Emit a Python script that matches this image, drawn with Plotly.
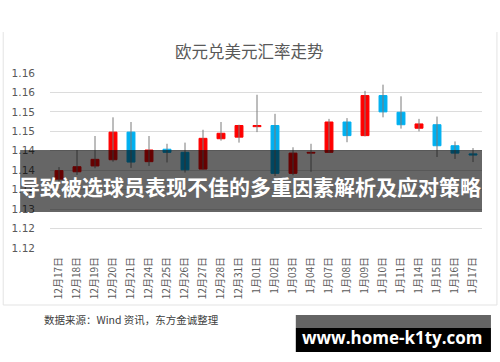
import plotly.graph_objects as go

dates = ["12月17日", "12月18日", "12月19日", "12月20日", "12月21日", "12月24日",
         "12月25日", "12月26日", "12月27日", "12月28日", "12月31日", "1月01日",
         "1月02日", "1月03日", "1月04日", "1月07日", "1月08日", "1月09日",
         "1月10日", "1月11日", "1月14日", "1月15日", "1月16日", "1月17日"]
opens = [1.1377, 1.1396, 1.1411, 1.1427, 1.1498, 1.1422, 1.1454, 1.1446, 1.1403, 1.1481,
         1.1485, 1.1512, 1.1515, 1.1392, 1.1444, 1.1446, 1.1524, 1.1489, 1.1592, 1.1549,
         1.1508, 1.1517, 1.1463, 1.1442]
closes = [1.1399, 1.1409, 1.1428, 1.1498, 1.1421, 1.1452, 1.1446, 1.1401, 1.1482, 1.1495,
          1.1515, 1.1515, 1.1392, 1.1444, 1.1446, 1.1524, 1.1489, 1.1592, 1.1550, 1.1517,
          1.1519, 1.1463, 1.1444, 1.1439]
highs = [1.1408, 1.1452, 1.1488, 1.1536, 1.1524, 1.1488, 1.1468, 1.1471, 1.1504, 1.1524,
         1.1517, 1.1594, 1.1545, 1.1459, 1.1468, 1.1532, 1.1534, 1.1604, 1.1620, 1.1590,
         1.1532, 1.1538, 1.1474, 1.1457]
lows = [1.1365, 1.1388, 1.1405, 1.1422, 1.1406, 1.1411, 1.1420, 1.1394, 1.1402, 1.1476,
        1.1471, 1.1498, 1.1385, 1.1387, 1.1396, 1.1445, 1.1472, 1.1487, 1.1536, 1.1507,
        1.1500, 1.1434, 1.1429, 1.1421]
y_tickvals = [1.12, 1.125, 1.13, 1.135, 1.14, 1.145, 1.15, 1.155, 1.16, 1.165]
y_ticktext = ["1.12", "1.12", "1.13", "1.13", "1.14", "1.14", "1.15", "1.15", "1.16", "1.16"]

UP = "#FF0000"
DOWN = "#00B0F0"

wx, wy = [], []
for d, h, l in zip(dates, highs, lows):
    wx += [d, d, None]
    wy += [l, h, None]

base = [min(o, c) for o, c in zip(opens, closes)]
height = [abs(c - o) for o, c in zip(opens, closes)]
colors = [UP if c >= o else DOWN for o, c in zip(opens, closes)]

fig = go.Figure()
fig.add_trace(go.Scatter(x=wx, y=wy, mode="lines", line=dict(color="#7a7a7a", width=1),
                         hoverinfo="skip", showlegend=False))
fig.add_trace(go.Bar(x=dates, y=height, base=base, width=0.44,
                     marker=dict(color=colors, line=dict(color=colors, width=1)),
                     showlegend=False))

fig.update_layout(
    width=500, height=362,
    margin=dict(l=48, r=18, t=73, b=114),
    paper_bgcolor="white", plot_bgcolor="white",
    font=dict(family="Noto Sans CJK SC", color="#595959"),
    xaxis=dict(type="category", categoryorder="array", categoryarray=dates,
               tickangle=-90, tickfont=dict(size=10, color="#595959", family="Noto Sans CJK SC"),
               showgrid=False, zeroline=False, showline=False, ticks="",
               ticklabelstandoff=6),
    yaxis=dict(range=[1.12, 1.165], tickvals=y_tickvals, ticktext=y_ticktext,
               tickfont=dict(size=10.5, color="#595959", family="DejaVu Sans"),
               showgrid=True, gridcolor="#dcdcdc", gridwidth=1, zeroline=False,
               showline=False, ticks="", ticklabelstandoff=14),
)

shapes = []
# chart frame (left, bottom, right)
for x0, y0, x1, y1 in [(-0.1083, 1.234, -0.1083, -0.3257), (-0.1083, -0.3257, 1.0346, -0.3257),
                       (1.0346, -0.3257, 1.0346, 1.234)]:
    shapes.append(dict(type="line", xref="paper", yref="paper", x0=x0, y0=y0, x1=x1, y1=y1,
                       line=dict(color="#e3e3e3", width=1), layer="below"))
# overlay banner
shapes.append(dict(type="rect", xref="paper", yref="paper", x0=-0.0691, x1=1.0, y0=0.2057, y1=0.56,
                   fillcolor="rgba(0,0,0,0.6)", line=dict(width=0), layer="above"))
# watermark box
shapes.append(dict(type="rect", xref="paper", yref="paper", x0=0.569, x1=1.0207, y0=-0.457, y1=-0.383,
                   fillcolor="#646464", line=dict(width=0), layer="above"))
shapes.append(dict(type="rect", xref="paper", yref="paper", x0=0.569, x1=1.0207, y0=-0.594, y1=-0.457,
                   fillcolor="#000000", line=dict(width=0), layer="above"))
fig.update_layout(shapes=shapes)

annotations = [
    dict(text="欧元兑美元汇率走势", xref="paper", yref="paper", x=0.4608, y=1.1257,
         xanchor="center", yanchor="middle", showarrow=False,
         font=dict(size=16.5, color="#595959", family="Noto Sans CJK SC")),
    dict(text="<b>导致被选球员表现不佳的多重因素解析及应对策略</b>", xref="paper", yref="paper",
         x=0.464, y=0.354, xanchor="center", yanchor="middle", showarrow=False,
         font=dict(size=21, color="white", family="Noto Sans CJK SC")),
    dict(text="数据来源：Wind 资讯，东方金诚整理", xref="paper", yref="paper", x=-0.0184, y=-0.411,
         xanchor="left", yanchor="middle", showarrow=False,
         font=dict(size=10.5, color="#404040", family="Noto Sans CJK SC")),
    dict(text="<b>www.home-k1ty.com</b>", xref="paper", yref="paper", x=0.7926, y=-0.5126,
         xanchor="center", yanchor="middle", showarrow=False,
         font=dict(size=17, color="white", family="Open Sans")),
]
fig.update_layout(annotations=annotations)

fig.write_html("out.html")
